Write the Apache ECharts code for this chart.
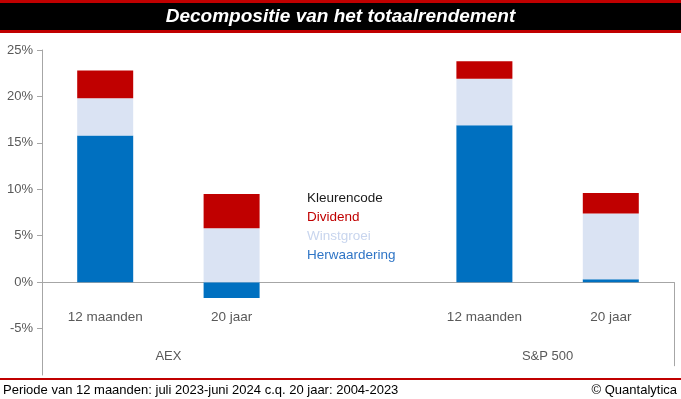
<!DOCTYPE html>
<html>
<head>
<meta charset="utf-8">
<script src="https://cdn.jsdelivr.net/npm/echarts@6/dist/echarts.min.js"></script>
<style>
  html, body { margin: 0; padding: 0; background: #fff; }
  #chart { width: 681px; height: 399px; }
</style>
</head>
<body>
<div id="chart"></div>
<script>
// categorieen (middelste is lege ruimte tussen AEX en S&P 500)
const categories = ['12 maanden', '20 jaar', '', '12 maanden', '20 jaar'];
const groups = ['AEX', 'S&P 500'];
const groupPos = [1, 4]; // grens tussen de twee balken van elke groep

// componenten in procentpunten
const herwaardering = [15.8, -1.7, null, 16.9, 0.3];
const winstgroei = [4.0, 5.8, null, 5.0, 7.1];
const dividend = [3.0, 3.7, null, 1.9, 2.2];

const legendItems = ['Kleurencode', 'Dividend', 'Winstgroei', 'Herwaardering'];
const legendColors = ['#1a1a1a', '#C00000', '#C8D5EE', '#2F75C6'];

const yMin = -10, yMax = 25, yStep = 5;

const font = 'Liberation Sans, Arial, sans-serif';
const axisGrey = '#A6A6A6';
const labelGrey = '#595959';

const gridTop = 50, gridBottom = 24;
// x-as ligt op de nullijn: verschuiving vanaf de onderkant van het plotvlak
const plotH = 399 - gridTop - gridBottom;
const zeroOffset = -(0 - yMin) / (yMax - yMin) * plotH;

let myChart = echarts.init(document.getElementById('chart'));

let legendText = legendItems.map(function (t, i) {
  return {
    type: 'text',
    left: 307,
    top: 191 + i * 19,
    z: 10,
    style: { text: t, fill: legendColors[i], font: '13.5px ' + font }
  };
});

myChart.setOption({
  animation: false,
  grid: { left: 42, right: 7, top: gridTop, bottom: gridBottom, outerBoundsMode: 'none', containLabel: false },
  xAxis: [
    {
      type: 'category',
      data: categories,
      position: 'bottom',
      offset: zeroOffset,
      axisLine: { show: true, onZero: false, lineStyle: { color: axisGrey, width: 1 } },
      axisTick: { show: false },
      axisLabel: { color: labelGrey, fontFamily: font, fontSize: 13.5, margin: 28, interval: 0 },
      splitLine: { show: false }
    },
    {
      type: 'value',
      min: 0,
      max: categories.length,
      position: 'bottom',
      offset: zeroOffset,
      axisLine: { show: false, onZero: false },
      axisTick: {
        show: true,
        customValues: [categories.length],
        length: 84,
        lineStyle: { color: axisGrey, width: 1 }
      },
      axisLabel: {
        customValues: groupPos,
        color: labelGrey,
        fontFamily: font,
        fontSize: 13,
        margin: 68,
        formatter: function (v) {
          let i = groupPos.indexOf(v);
          return i >= 0 ? groups[i] : '';
        }
      },
      splitLine: { show: false }
    }
  ],
  yAxis: {
    type: 'value',
    min: yMin,
    max: yMax,
    interval: yStep,
    axisLine: { show: true, lineStyle: { color: axisGrey, width: 1 } },
    axisTick: { show: true, length: 5, lineStyle: { color: axisGrey } },
    axisLabel: {
      color: labelGrey,
      fontFamily: font,
      fontSize: 13,
      margin: 9,
      showMinLabel: false,
      formatter: '{value}%'
    },
    splitLine: { show: false }
  },
  series: [
    {
      name: 'Herwaardering',
      type: 'bar',
      stack: 'totaal',
      barWidth: 56,
      itemStyle: { color: '#0070C0' },
      data: herwaardering
    },
    {
      name: 'Winstgroei',
      type: 'bar',
      stack: 'totaal',
      barWidth: 56,
      itemStyle: { color: '#DAE3F3' },
      data: winstgroei
    },
    {
      name: 'Dividend',
      type: 'bar',
      stack: 'totaal',
      barWidth: 56,
      itemStyle: { color: '#C00000' },
      data: dividend
    }
  ],
  graphic: [
    // titelbalk
    { type: 'rect', left: 0, top: 0, z: 10, shape: { width: 681, height: 33 }, style: { fill: '#C00000' } },
    { type: 'rect', left: 0, top: 3, z: 11, shape: { width: 681, height: 27 }, style: { fill: '#000' } },
    {
      type: 'text', left: 'center', top: 7, z: 12,
      style: {
        text: 'Decompositie van het totaalrendement',
        fill: '#fff',
        font: 'italic bold 19px "Liberation Sans Narrow", "Liberation Sans", Arial, sans-serif'
      }
    },
    // voettekst
    { type: 'rect', left: 0, top: 378, z: 10, shape: { width: 681, height: 21 }, style: { fill: '#fff' } },
    { type: 'rect', left: 0, top: 378, z: 11, shape: { width: 681, height: 2 }, style: { fill: '#C00000' } },
    {
      type: 'text', left: 3, top: 384, z: 12,
      style: { text: 'Periode van 12 maanden: juli 2023-juni 2024 c.q. 20 jaar: 2004-2023', fill: '#000', font: '13px ' + font }
    },
    {
      type: 'text', right: 4, top: 384, z: 12,
      style: { text: '© Quantalytica', fill: '#000', font: '13px ' + font }
    }
  ].concat(legendText)
});
</script>
</body>
</html>
